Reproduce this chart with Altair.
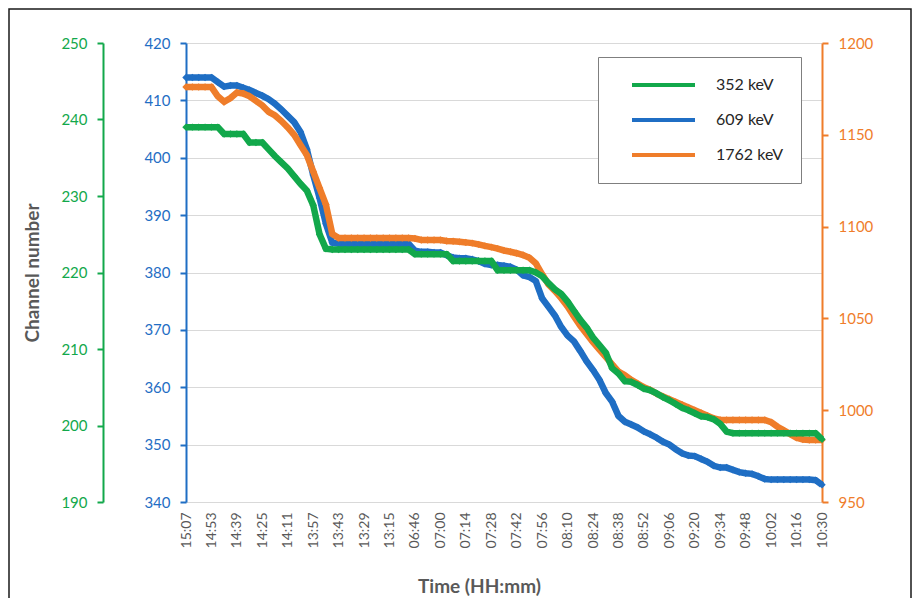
import altair as alt
import pandas as pd

TIMES = ["15:07", "14:53", "14:39", "14:25", "14:11", "13:57", "13:43", "13:29", "13:15",
         "06:46", "07:00", "07:14", "07:28", "07:42", "07:56", "08:10", "08:24", "08:38",
         "08:52", "09:06", "09:20", "09:34", "09:48", "10:02", "10:16", "10:30"]
STEPS_PER_LABEL = 4

SERIES = ["352 keV", "609 keV", "1762 keV"]

CH_609 = [414, 414, 414, 414, 414,
          413.2, 412.4, 412.6, 412.6, 412.2, 411.8, 411.3, 410.8, 410.2, 409.4, 408.4, 407.3,
          406.2, 404.5, 401.5, 397, 393, 388.5, 385.2,
          385, 385, 385, 385, 385, 385, 385, 385, 385, 385, 385, 385,
          383.8, 383.6, 383.6, 383.5, 383.5, 383, 382.6, 382.5, 382.5, 382.3, 382, 381.5,
          381.3, 381.3, 381.2, 381, 380.5, 379.5, 379.2, 378.5, 375.5, 374, 372.5, 370.5,
          369, 368, 366.3, 364.5, 363, 361.3, 359, 357.5, 355, 354, 353.5, 353, 352.3,
          351.8, 351.2, 350.5, 350, 349.2, 348.5, 348.1, 348, 347.5, 347, 346.3, 346, 346,
          345.6, 345.2, 345, 344.9, 344.5, 344,
          343.9, 343.9, 343.9, 343.9, 343.9, 343.9, 343.9, 343.8, 343]

CH_352 = [239, 239, 239, 239, 239, 239, 238.1, 238.1, 238.1, 238.1, 237, 237, 237,
          236.1, 235.2, 234.4, 233.6, 232.6, 231.6, 230.7, 228.8, 225, 223.1,
          223, 223, 223, 223, 223, 223, 223, 223, 223, 223, 223, 223, 223,
          222.4, 222.4, 222.4, 222.4, 222.4, 222.4,
          221.5, 221.5, 221.5, 221.5, 221.5, 221.5, 221.5,
          220.3, 220.3, 220.3, 220.3, 220.3, 220.3,
          220, 219.5, 218.6, 217.8, 217.2, 216.2, 215, 213.8, 212.8, 211.5, 210.5, 209.5,
          207.5, 206.8, 205.8, 205.7, 205.3, 204.8, 204.6, 204.2, 203.7, 203.3, 202.8,
          202.3, 202, 201.6, 201.2, 201.1, 200.8, 200.2, 199.2,
          199, 199, 199, 199, 199, 199, 199, 199, 199, 199, 199, 199, 199, 199, 198.2]

CH_1762 = [1176, 1176, 1176, 1176, 1176,
           1171, 1168, 1170, 1173, 1172.5, 1171, 1168.5, 1166, 1162.5, 1160.5, 1157.5,
           1154, 1150, 1144.5, 1139, 1130, 1121, 1112, 1096,
           1093.8, 1093.8, 1093.8, 1093.8, 1093.8, 1093.8, 1093.8, 1093.8, 1093.8, 1093.8,
           1093.8, 1093.8,
           1093.5, 1092.7, 1092.7, 1092.7, 1092.7,
           1092.2, 1092, 1091.7, 1091.4, 1091, 1090.3, 1089.5, 1088.8, 1088, 1087, 1086.3,
           1085.5, 1084.5, 1083, 1080, 1074, 1068.5, 1065, 1061, 1056.5, 1051, 1046, 1041.5,
           1037, 1033, 1029, 1025, 1021, 1019, 1016.5, 1014.5, 1012.5, 1011, 1009, 1007.5,
           1006, 1004.5, 1003, 1001.5, 1000, 998.5, 997, 995.5,
           994.7, 994.7, 994.7, 994.7, 994.7, 994.7, 994.7, 994.7,
           993.5, 991, 989, 987, 985, 984, 983.8, 983.8, 983.8]

GREEN = "#12A84B"
BLUE = "#1F6EC4"
ORANGE = "#EF7D2A"
GREY_TXT = "#595959"

n_pts = (len(TIMES) - 1) * STEPS_PER_LABEL + 1


def frame(values, name):
    return pd.DataFrame({"idx": list(range(len(values))), "value": values, "series": name})


df_352 = frame(CH_352, SERIES[0])
df_609 = frame(CH_609, SERIES[1])
df_1762 = frame(CH_1762, SERIES[2])

label_expr = "[" + ",".join("'" + t + "'" for t in TIMES) + "][round(datum.value/" + str(STEPS_PER_LABEL) + ")]"

x_enc = alt.X(
    "idx:Q",
    scale=alt.Scale(domain=[0, n_pts - 1], nice=False, zero=False),
    axis=alt.Axis(
        values=list(range(0, n_pts, STEPS_PER_LABEL)),
        labelExpr=label_expr,
        labelAngle=270,
        labelAlign="right",
        labelBaseline="middle",
        labelFontSize=14,
        labelColor=GREY_TXT,
        labelPadding=10,
        ticks=False,
        domain=False,
        grid=False,
        title="Time (HH:mm)",
        titleFontSize=19,
        titleFontWeight="bold",
        titleColor=GREY_TXT,
        titlePadding=30,
        titleX=293,
    ),
)

legend = alt.Legend(
    title=None,
    orient="none",
    legendX=412,
    legendY=14,
    symbolType="stroke",
    symbolSize=3969,
    symbolStrokeWidth=4,
    clipHeight=20,
    rowPadding=15,
    padding=18,
    symbolOffset=14,
    labelOffset=19,
    labelFontSize=16,
    labelColor="#262626",
    strokeColor="#7f7f7f",
    fillColor="white",
)

color_enc = alt.Color(
    "series:N",
    scale=alt.Scale(domain=SERIES, range=[GREEN, BLUE, ORANGE]),
    legend=legend,
)


def line_layer(df, color, domain, ticks, axis_kwargs):
    return alt.Chart(df).mark_line(
        strokeWidth=6.5,
        point=alt.OverlayMarkDef(filled=True, size=55, shape="diamond", color=color),
        color=color,
    ).encode(
        x=x_enc,
        y=alt.Y(
            "value:Q",
            scale=alt.Scale(domain=domain, nice=False, zero=False),
            axis=alt.Axis(
                values=ticks,
                format="d",
                labelColor=color,
                domainColor=color,
                tickColor=color,
                domainWidth=2,
                tickWidth=2,
                tickSize=6,
                labelFontSize=15,
                labelPadding=10,
                **axis_kwargs,
            ),
        ),
        color=color_enc,
    )


blue_layer = line_layer(
    df_609, BLUE, [340, 420], list(range(340, 421, 10)),
    dict(orient="left", title=None, grid=True, gridColor="#d9d9d9", gridWidth=1),
)
orange_layer = line_layer(
    df_1762, ORANGE, [950, 1200], list(range(950, 1201, 50)),
    dict(orient="right", title=None, grid=False),
)
green_layer = line_layer(
    df_352, GREEN, [190, 250], list(range(190, 251, 10)),
    dict(orient="left", offset=83, grid=False, title="Channel number",
         titleFontSize=19, titleFontWeight="bold", titleColor=GREY_TXT, titlePadding=18),
)

border = alt.Chart(alt.Data(values=[{}])).mark_rect(
    filled=False, stroke="#1a1a1a", strokeWidth=1.5, clip=False
).encode(
    x=alt.value(-177), x2=alt.value(725), y=alt.value(-34), y2=alt.value(640)
)

chart = alt.layer(blue_layer, orange_layer, green_layer, border).resolve_scale(
    y="independent", color="shared"
).properties(
    width=636,
    height=459,
    autosize=alt.AutoSizeParams(type="none"),
    padding={"left": 178, "top": 35, "right": 90, "bottom": 96},
    background="white",
).configure(font="Lato").configure_view(stroke=None)

chart.save("out.html", embed_options={"renderer": "svg", "actions": False})
